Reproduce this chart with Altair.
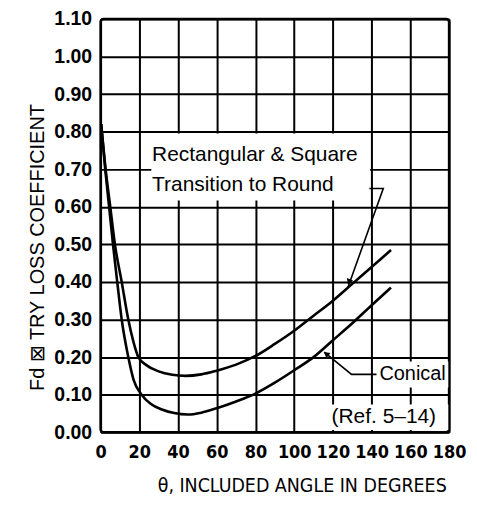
import altair as alt
import pandas as pd

# Rectangular & Square transition to round
rect_x = [0.3, 2.6, 5.0, 7.4, 10.9, 14.3, 17, 19.5, 23.8, 30, 37, 44, 52, 60, 70, 80, 90, 100, 110, 120, 130, 140, 150]
rect_y = [0.82, 0.70, 0.60, 0.50, 0.40, 0.30, 0.24, 0.20, 0.178, 0.162, 0.153, 0.15, 0.154, 0.164, 0.18, 0.203,
          0.235, 0.27, 0.31, 0.35, 0.395, 0.44, 0.485]
# Conical
con_x = [0.3, 2.4, 4.4, 6.4, 8.6, 10.9, 14.3, 17, 21.2, 26, 32, 38, 45, 52, 60, 70, 80, 90, 100, 110, 120, 130, 140, 150]
con_y = [0.82, 0.70, 0.60, 0.50, 0.40, 0.30, 0.20, 0.14, 0.10, 0.075, 0.06, 0.051, 0.047, 0.052, 0.064, 0.082, 0.103,
         0.132, 0.165, 0.20, 0.245, 0.29, 0.338, 0.385]

x_ticks = [0, 20, 40, 60, 80, 100, 120, 140, 160, 180]
y_ticks = [0.0, 0.1, 0.2, 0.3, 0.4, 0.5, 0.6, 0.7, 0.8, 0.9, 1.0, 1.1]

# annotation boxes (white backgrounds)
box_x1 = [26.2, 142.5, 118.5]
box_x2 = [139.2, 179.6, 179.6]
box_y1 = [0.617, 0.119, 0.006]
box_y2 = [0.795, 0.188, 0.074]

label_text = ["Rectangular & Square", "Transition to Round", "Conical", "(Ref. 5\u201314)"]
label_x = [26.6, 26.6, 144.0, 119.3]
label_y = [0.737, 0.657, 0.154, 0.040]
label_size = [21, 21, 20, 21]

# leader lines
lead_id = ["r", "r", "r", "c", "c", "c"]
lead_ord = [0, 1, 2, 0, 1, 2]
lead_x = [138.8, 146.0, 127.5, 142.5, 129.6, 115.5]
lead_y = [0.649, 0.649, 0.382, 0.154, 0.154, 0.213]

arrow_x = [128.3, 116.5]
arrow_y = [0.40, 0.209]
arrow_angle = [200, 309]

curves = pd.DataFrame({
    "angle": rect_x + con_x,
    "fd": rect_y + con_y,
    "series": ["Rectangular & Square"] * len(rect_x) + ["Conical"] * len(con_x),
})
boxes = pd.DataFrame({"x1": box_x1, "x2": box_x2, "y1": box_y1, "y2": box_y2})
labels = pd.DataFrame({"t": label_text, "x": label_x, "y": label_y, "s": label_size})
leaders = pd.DataFrame({"id": lead_id, "o": lead_ord, "x": lead_x, "y": lead_y})
arrows = pd.DataFrame({"x": arrow_x, "y": arrow_y, "a": arrow_angle})

FONT = "Liberation Sans Narrow, DejaVu Sans Condensed, Liberation Sans, sans-serif"
FONT2 = "Liberation Sans, sans-serif"

xs = alt.Scale(domain=[0, 180], nice=False, zero=False)
ys = alt.Scale(domain=[0, 1.1], nice=False, zero=False)

x_axis = alt.Axis(values=x_ticks, format="d", grid=True, ticks=False, domain=False, labelFlush=False,
                  labelOverlap=False, labelFont=FONT, labelFontSize=18, labelFontWeight="bold",
                  labelColor="black", labelPadding=11,
                  title="\u03b8, INCLUDED ANGLE IN DEGREES", titleFont=FONT, titleFontSize=19.5,
                  titleFontWeight="normal", titleColor="black", titleX=202, titleY=54,
                  titleAlign="center", titleBaseline="middle")
y_axis = alt.Axis(values=y_ticks, format=".2f", grid=True, ticks=False, domain=False, labelFlush=False,
                  labelOverlap=False, labelFont=FONT2, labelFontSize=19.5, labelFontWeight="bold",
                  labelColor="black", labelPadding=9,
                  title="Fd \u22a0 TRY LOSS COEFFICIENT", titleFont=FONT2, titleFontSize=20,
                  titleFontWeight="normal", titleColor="black", titleX=-63, titleY=229,
                  titleAlign="center", titleBaseline="middle", titleAngle=270)

base_lines = alt.Chart(curves).mark_line(color="black", strokeWidth=2.6, interpolate="monotone").encode(
    x=alt.X("angle:Q", scale=xs, axis=x_axis),
    y=alt.Y("fd:Q", scale=ys, axis=y_axis),
    detail="series:N",
)

box_layer = alt.Chart(boxes).mark_rect(fill="white", stroke=None).encode(
    x=alt.X("x1:Q", scale=xs, axis=x_axis), x2="x2:Q",
    y=alt.Y("y1:Q", scale=ys, axis=y_axis), y2="y2:Q",
)

text_layer = alt.Chart(labels).mark_text(align="left", baseline="middle", font=FONT2,
                                         color="black").encode(
    x=alt.X("x:Q", scale=xs, axis=x_axis), y=alt.Y("y:Q", scale=ys, axis=y_axis), text="t:N",
    size=alt.Size("s:Q", scale=None, legend=None),
)

leader_layer = alt.Chart(leaders).mark_line(color="black", strokeWidth=1.6).encode(
    x=alt.X("x:Q", scale=xs, axis=x_axis), y=alt.Y("y:Q", scale=ys, axis=y_axis), detail="id:N", order="o:Q",
)

arrow_layer = alt.Chart(arrows).mark_point(shape="triangle-up", filled=True, color="black", size=45,
                                           opacity=1).encode(
    x=alt.X("x:Q", scale=xs, axis=x_axis), y=alt.Y("y:Q", scale=ys, axis=y_axis),
    angle=alt.Angle("a:Q", scale=None),
)

chart = alt.layer(box_layer, base_lines, leader_layer, arrow_layer, text_layer).properties(
    width=350, height=415, autosize="none",
    padding={"left": 93, "top": 10, "right": 20, "bottom": 70},
).configure_view(stroke="black", strokeWidth=2.5, cornerRadius=3).configure_axis(
    gridColor="black", gridWidth=2, gridOpacity=1
)

chart.save("out.html", embed_options={"renderer": "svg", "actions": False})
